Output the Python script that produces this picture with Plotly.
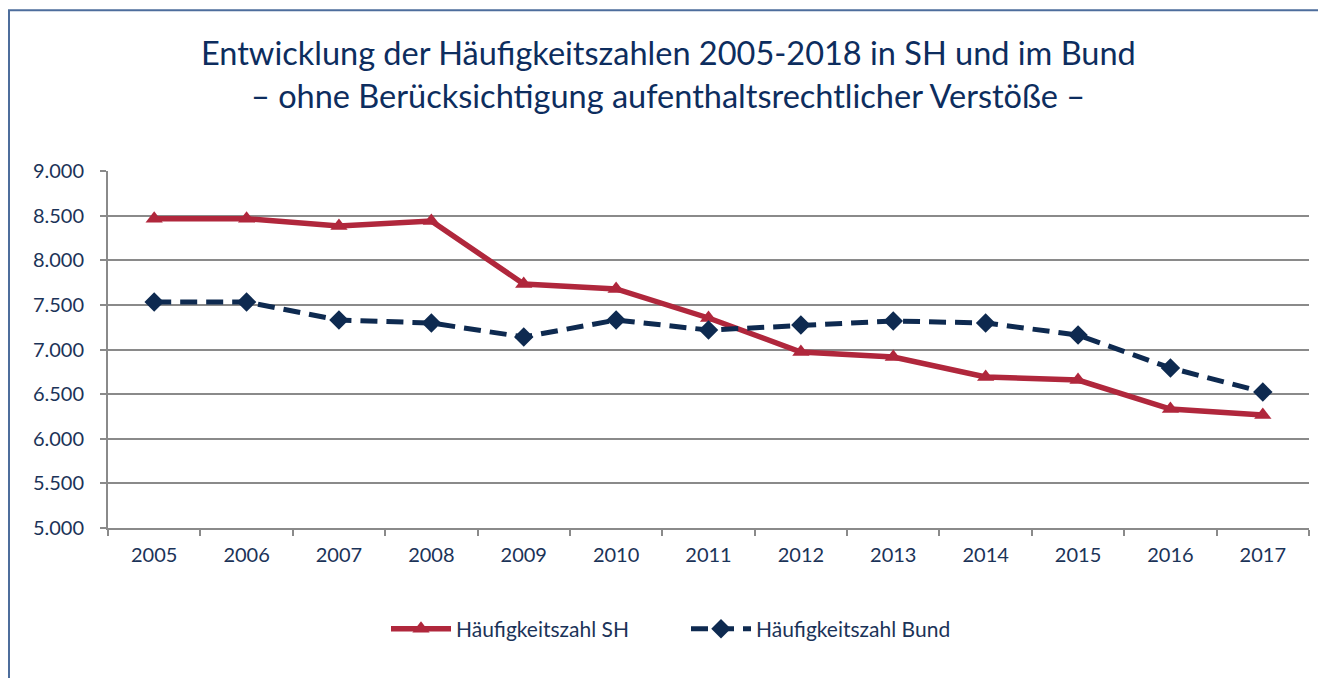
import plotly.graph_objects as go

years = ["2005", "2006", "2007", "2008", "2009", "2010", "2011", "2012", "2013", "2014", "2015", "2016", "2017"]
sh_values = [8465, 8465, 8384, 8440, 7734, 7678, 7353, 6972, 6916, 6692, 6658, 6333, 6266]
bund_values = [7532, 7532, 7330, 7297, 7140, 7330, 7218, 7275, 7319, 7297, 7162, 6793, 6524]
y_ticks = [5000, 5500, 6000, 6500, 7000, 7500, 8000, 8500, 9000]

title_line1 = "Entwicklung der Häufigkeitszahlen 2005-2018 in SH und im Bund"
title_line2 = "– ohne Berücksichtigung aufenthaltsrechtlicher Verstöße –"

RED = "#b0273c"
NAVY = "#0e2a50"
TEXT = "#1b3358"
GRID = "#8a8a8a"
FONT = "Lato"

OFF = 8  # page body margin
W, H = 1329 - 2 * OFF, 686 - 2 * OFF
L, T = 108 - OFF, 171 - OFF
R = W - (1309 - OFF)
B = H - (528 - OFF)
pw = W - L - R
ph = H - T - B


def px_x(x):
    return (x - OFF - L) / pw


def px_y(y):
    return (H - B - (y - OFF)) / ph


fig = go.Figure()
fig.add_trace(go.Scatter(
    x=years, y=sh_values, name="Häufigkeitszahl SH", mode="lines+markers",
    line=dict(color=RED, width=5.5),
    marker=dict(symbol="triangle-up", size=15, color=RED),
    legend="legend",
))
fig.add_trace(go.Scatter(
    x=years, y=bund_values, name="Häufigkeitszahl Bund", mode="lines+markers",
    line=dict(color=NAVY, width=5, dash="17px,9px"),
    marker=dict(symbol="diamond", size=15, color=NAVY),
    legend="legend2",
))

BORDER = dict(color="#4d6d9c", width=2)
# outer frame: left and top edges only (right/bottom fall outside the view)
fig.add_shape(type="path", xref="paper", yref="paper",
              path="M {:.5f},{:.5f} L {:.5f},{:.5f} L {:.5f},{:.5f}".format(
                  px_x(OFF + 1), px_y(690), px_x(OFF + 1), px_y(OFF + 2.3),
                  px_x(1318), px_y(OFF + 2.3)),
              line=BORDER, layer="below")

for txt, yy in [(title_line1, 52), (title_line2, 95)]:
    fig.add_annotation(text=txt, xref="paper", yref="paper", x=px_x(668), y=px_y(yy),
                       showarrow=False, xanchor="center", yanchor="middle",
                       font=dict(family=FONT, size=32.5, color="#0d2d5e"))

leg_common = dict(orientation="h", yanchor="middle", xanchor="left",
                  font=dict(family=FONT, size=21, color=TEXT), itemwidth=60,
                  bgcolor="rgba(0,0,0,0)")
fig.update_layout(
    width=W, height=H,
    margin=dict(l=L, r=R, t=T, b=B),
    paper_bgcolor="white", plot_bgcolor="white",
    separators=",.",
    font=dict(family=FONT, size=20, color=TEXT),
    showlegend=True,
    legend=dict(x=px_x(386), y=px_y(629), **leg_common),
    legend2=dict(x=px_x(686), y=px_y(629), **leg_common),
)
fig.update_xaxes(
    type="category", tickson="boundaries", ticks="outside", ticklen=6, tickwidth=2,
    tickcolor=GRID, showline=True, linecolor=GRID, linewidth=2, showgrid=False,
    tickfont=dict(family=FONT, size=20, color=TEXT), range=[-0.5, 12.5],
    ticklabelstandoff=8,
)
fig.update_yaxes(
    range=[5000, 9000], tickvals=y_ticks, tickformat=",d", ticks="outside", ticklen=6,
    tickwidth=2, tickcolor=GRID, showline=True, linecolor=GRID, linewidth=2,
    showgrid=True, gridcolor=GRID, gridwidth=2, zeroline=False,
    tickfont=dict(family=FONT, size=20, color=TEXT), ticklabelstandoff=12,
)

fig.write_html("out.html")
